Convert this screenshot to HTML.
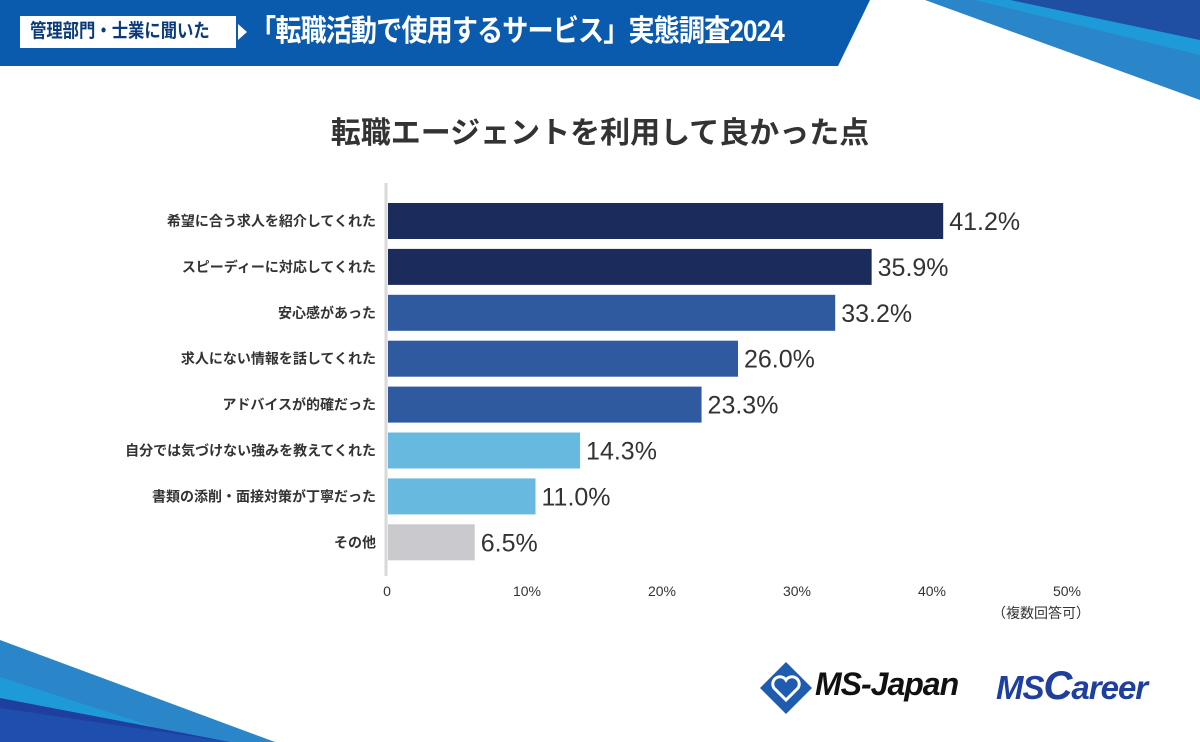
<!DOCTYPE html>
<html><head><meta charset="utf-8"><style>
body{margin:0;width:1200px;height:742px;overflow:hidden;background:#fff;font-family:"Liberation Sans","Noto Sans CJK JP",sans-serif;position:relative}
.abs{position:absolute}
</style></head><body>
<svg class="abs" style="left:0;top:0" width="1200" height="742">
<polygon points="0,0 870,0 838,66 0,66" fill="#0a5aad"/>
<polygon points="925,0 1200,0 1200,100" fill="#2a86c9"/>
<polygon points="975,0 1200,0 1200,55" fill="#1f9ad8"/>
<polygon points="1010,0 1200,0 1200,40" fill="#1e4fa3"/>
<polygon points="0,640 275,742 0,742" fill="#2a86c9"/>
<polygon points="0,677 200,742 0,742" fill="#1f9ad8"/>
<polygon points="0,698 230,742 0,742" fill="#1e3f9e"/>
<polygon points="0,708 230,742 0,742" fill="#1f4fae"/>
</svg>
<div class="abs" style="left:20px;top:16px;width:216px;height:32px;background:#fff;overflow:hidden"><div style="color:#0a3a7a;font-weight:bold;font-size:19px;line-height:32px;white-space:nowrap;transform:scaleX(0.86);transform-origin:0 0;margin-left:10px">管理部門・士業に聞いた</div></div>
<div class="abs" style="left:238px;top:24px;width:0;height:0;border-top:8px solid transparent;border-bottom:8px solid transparent;border-left:9px solid #fff"></div>
<div class="abs" style="left:250px;top:12px;color:#fff;font-weight:bold;font-size:30px;line-height:40px;white-space:nowrap;letter-spacing:-1px;transform:scaleX(0.87);transform-origin:0 0">「転職活動で使用するサービス」実態調査2024</div>
<div class="abs" style="left:0;width:1200px;top:112px;text-align:center;color:#333;font-weight:bold;font-size:30px;line-height:44px">転職エージェントを利用して良かった点</div>
<svg id="chart" class="abs" style="left:0;top:0" width="1200" height="742"></svg>
<div class="abs" style="left:992px;top:603px;font-size:14px;color:#333">（複数回答可）</div>
<svg class="abs" style="left:758px;top:660px" width="56" height="56">
<polygon points="28,2 54,28 28,54 2,28" fill="#1f5cb0"/>
<path d="M28,40 L16,28 A6,6 0 0 1 28,20 A6,6 0 0 1 40,28 Z" fill="none" stroke="#fff" stroke-width="3"/>
</svg>
<div class="abs" style="left:815px;top:666px;font-size:32px;font-weight:bold;font-style:italic;color:#111;letter-spacing:-1px">MS-Japan</div>
<div class="abs" style="left:996px;top:664px;font-size:33px;font-weight:bold;font-style:italic;color:#1f3f9e;letter-spacing:-1px">MS<span style="font-size:40px">C</span>areer</div>
<script>
const categories=["希望に合う求人を紹介してくれた","スピーディーに対応してくれた","安心感があった","求人にない情報を話してくれた","アドバイスが的確だった","自分では気づけない強みを教えてくれた","書類の添削・面接対策が丁寧だった","その他"];
const values=[41.2,35.9,33.2,26.0,23.3,14.3,11.0,6.5];
const colors=["#1b2c5c","#1b2c5c","#2f5aa0","#2f5aa0","#2f5aa0","#68b9e0","#68b9e0","#c9c9ce"];
const ticks=[0,10,20,30,40,50];
const tickLabels=["0","10%","20%","30%","40%","50%"];
const svg=document.getElementById('chart');
const NS='http://www.w3.org/2000/svg';
const x0=387,scale=13.5;
const xs=v=>x0+v*scale;
const yc=i=>221+i*45.9;
function mk(t,a){const e=document.createElementNS(NS,t);for(const k in a)e.setAttribute(k,a[k]);svg.appendChild(e);return e;}
const ax=mk('line',{x1:386,y1:183,x2:386,y2:576,stroke:'#d8d8d8','stroke-width':3});


categories.forEach((c,i)=>{
 const r=mk('rect',{x:x0+1,y:yc(i)-18,width:xs(values[i])-x0-1,height:36,fill:colors[i]});
 
 
 const l=mk('text',{x:376,y:yc(i)+5,'text-anchor':'end','font-size':14,'font-weight':'bold',fill:'#333'});
 l.textContent=c;
 
 
 const v=mk('text',{x:xs(values[i])+6,y:yc(i)+9,'font-size':25,fill:'#333'});
 v.textContent=values[i].toFixed(1)+'%';
 
 
});
ticks.forEach((t,i)=>{
 const tx=mk('text',{x:xs(t)+(t===0?0:5),y:596,'text-anchor':'middle','font-size':14,fill:'#333'});
 tx.textContent=tickLabels[i];
 
 
});
</script>
</body></html>
